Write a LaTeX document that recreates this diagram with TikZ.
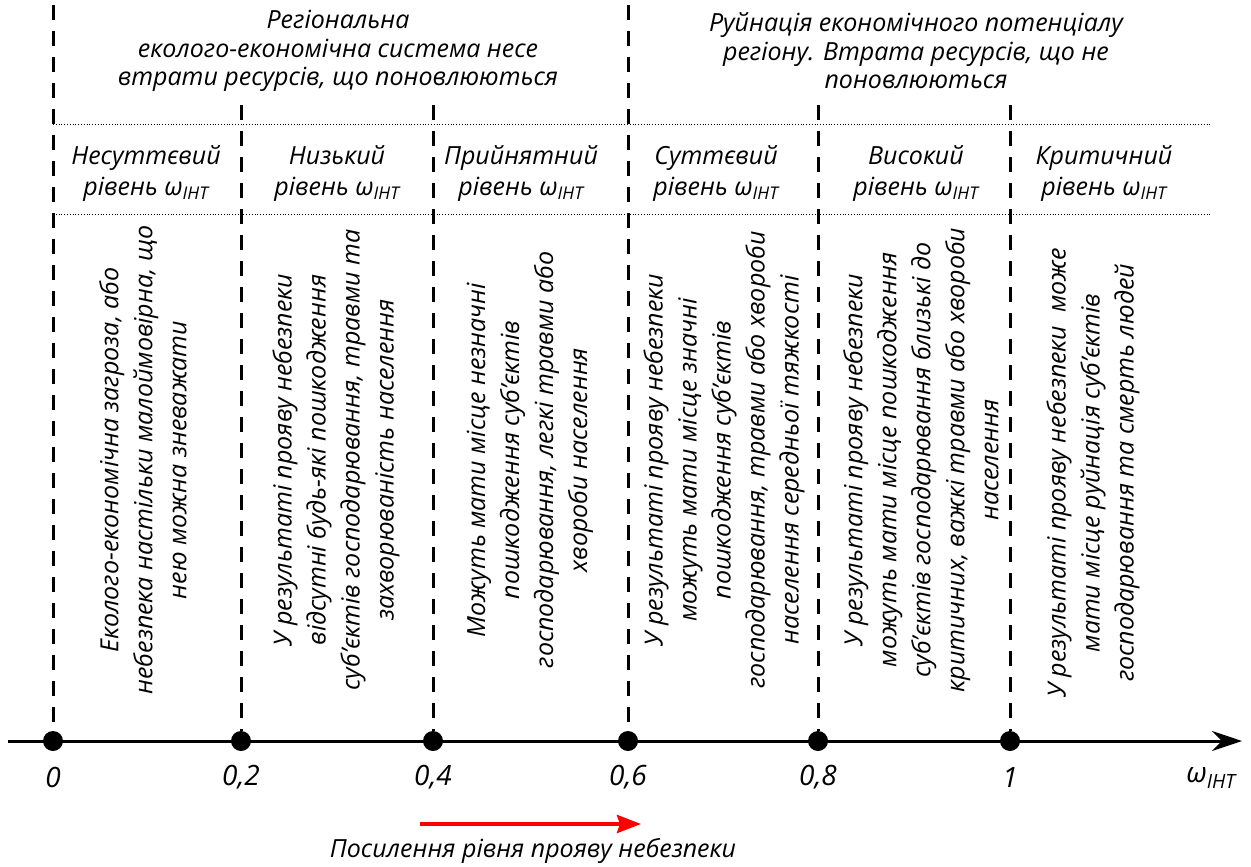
\documentclass[tikz,border=0pt]{standalone}
\usepackage{fontspec}
\setmainfont{Open Sans}
\usetikzlibrary{arrows.meta}
\newcommand{\wint}{ω\textsubscript{ІНТ}}

\begin{document}
\begin{tikzpicture}[x=1pt,y=-1pt,
	font=\itshape\fontsize{25}{28.5}\selectfont,
	border/.style={line width=3pt, dash pattern=on 15pt off 11pt},
	sep/.style={dotted, line width=0.8pt},
	dot/.style={circle, fill=black, inner sep=0pt, minimum size=20pt},
	level/.style={align=center, font=\itshape\fontsize{25}{31}\selectfont},
	effect/.style={rotate=90, align=center, font=\itshape\fontsize{25}{34}\selectfont},
	tick/.style={font=\itshape\fontsize{28}{34}\selectfont}]

	\useasboundingbox (0,0) rectangle (1251,867);

	% Axis %
	\coordinate (axL) at (8,741);
	\coordinate (axR) at (1242,741);
	\draw [line width=3pt, -{Stealth[length=30pt,width=20pt,inset=10pt]}] (axL) -- (axR);
	\node [tick] (wlab) at (1211,778) {\wint};

	% Points and borders %
	\foreach \x/\n/\l/\t in {53/0/0/5, 241/1/{0,2}/105, 433/2/{0,4}/105, 628/3/{0,6}/5, 818/4/{0,8}/105, 1010/5/1/105} {
		\coordinate (t\n) at (\x,\t);
		\node [dot] (p\n) at (\x,741) {};
		\node [tick] (v\n) at (\x,777) {\l};
		\draw [border] (t\n) -- (p\n);
	}

	% Separators %
	\draw [sep] (53,124) -- (1212,124);
	\draw [sep] (53,214) -- (1212,214);

	% Systems %
	\node [align=center] (sysA) at (338,51) {Регіональна\\еколого-економічна система несе\\втрати ресурсів, що поновлюються};
	\node [align=center] (sysB) at (916,51) {Руйнація економічного потенціалу\\регіону. Втрата ресурсів, що не\\поновлюються};

	% Levels %
	\node [level] (lev0) at (146,174) {Несуттєвий\\рівень \wint};
	\node [level] (lev1) at (337,174) {Низький\\рівень \wint};
	\node [level] (lev2) at (521,174) {Прийнятний\\рівень \wint};
	\node [level] (lev3) at (716,174) {Суттєвий\\рівень \wint};
	\node [level] (lev4) at (916,174) {Високий\\рівень \wint};
	\node [level] (lev5) at (1104,174) {Критичний\\рівень \wint};

	% Effects %
	\node [effect] (eff0) at (143,460) {Еколого-економічна загроза, або\\небезпека настільки малоймовірна, що\\нею можна зневажати};
	\node [effect] (eff1) at (336,460) {У результаті прояву небезпеки\\відсутні будь-які пошкодження\\суб’єктів господарювання, травми та\\захворюваність населення};
	\node [effect] (eff2) at (530,460) {Можуть мати місце незначні\\пошкодження суб’єктів\\господарювання, легкі травми або\\хвороби населення};
	\node [effect] (eff3) at (724,460) {У результаті прояву небезпеки\\можуть мати місце значні\\пошкодження суб’єктів\\господарювання, травми або хвороби\\населення середньої тяжкості};
	\node [effect] (eff4) at (921,460) {У результаті прояву небезпеки\\можуть мати місце пошкодження\\суб’єктів господарювання близькі до\\критичних, важкі травми або хвороби\\населення};
	\node [effect] (eff5) at (1093,473) {У результаті прояву небезпеки~ може\\мати місце руйнація суб’єктів\\господарювання та смерть людей};

	% Direction %
	\coordinate (dirL) at (420,824);
	\coordinate (dirR) at (641,824);
	\draw [red, line width=4pt, -{Stealth[length=24pt,width=18pt,inset=3pt]}] (dirL) -- (dirR);
	\node (dir) at (533,851) {Посилення рівня прояву небезпеки};
\end{tikzpicture}
\end{document}
